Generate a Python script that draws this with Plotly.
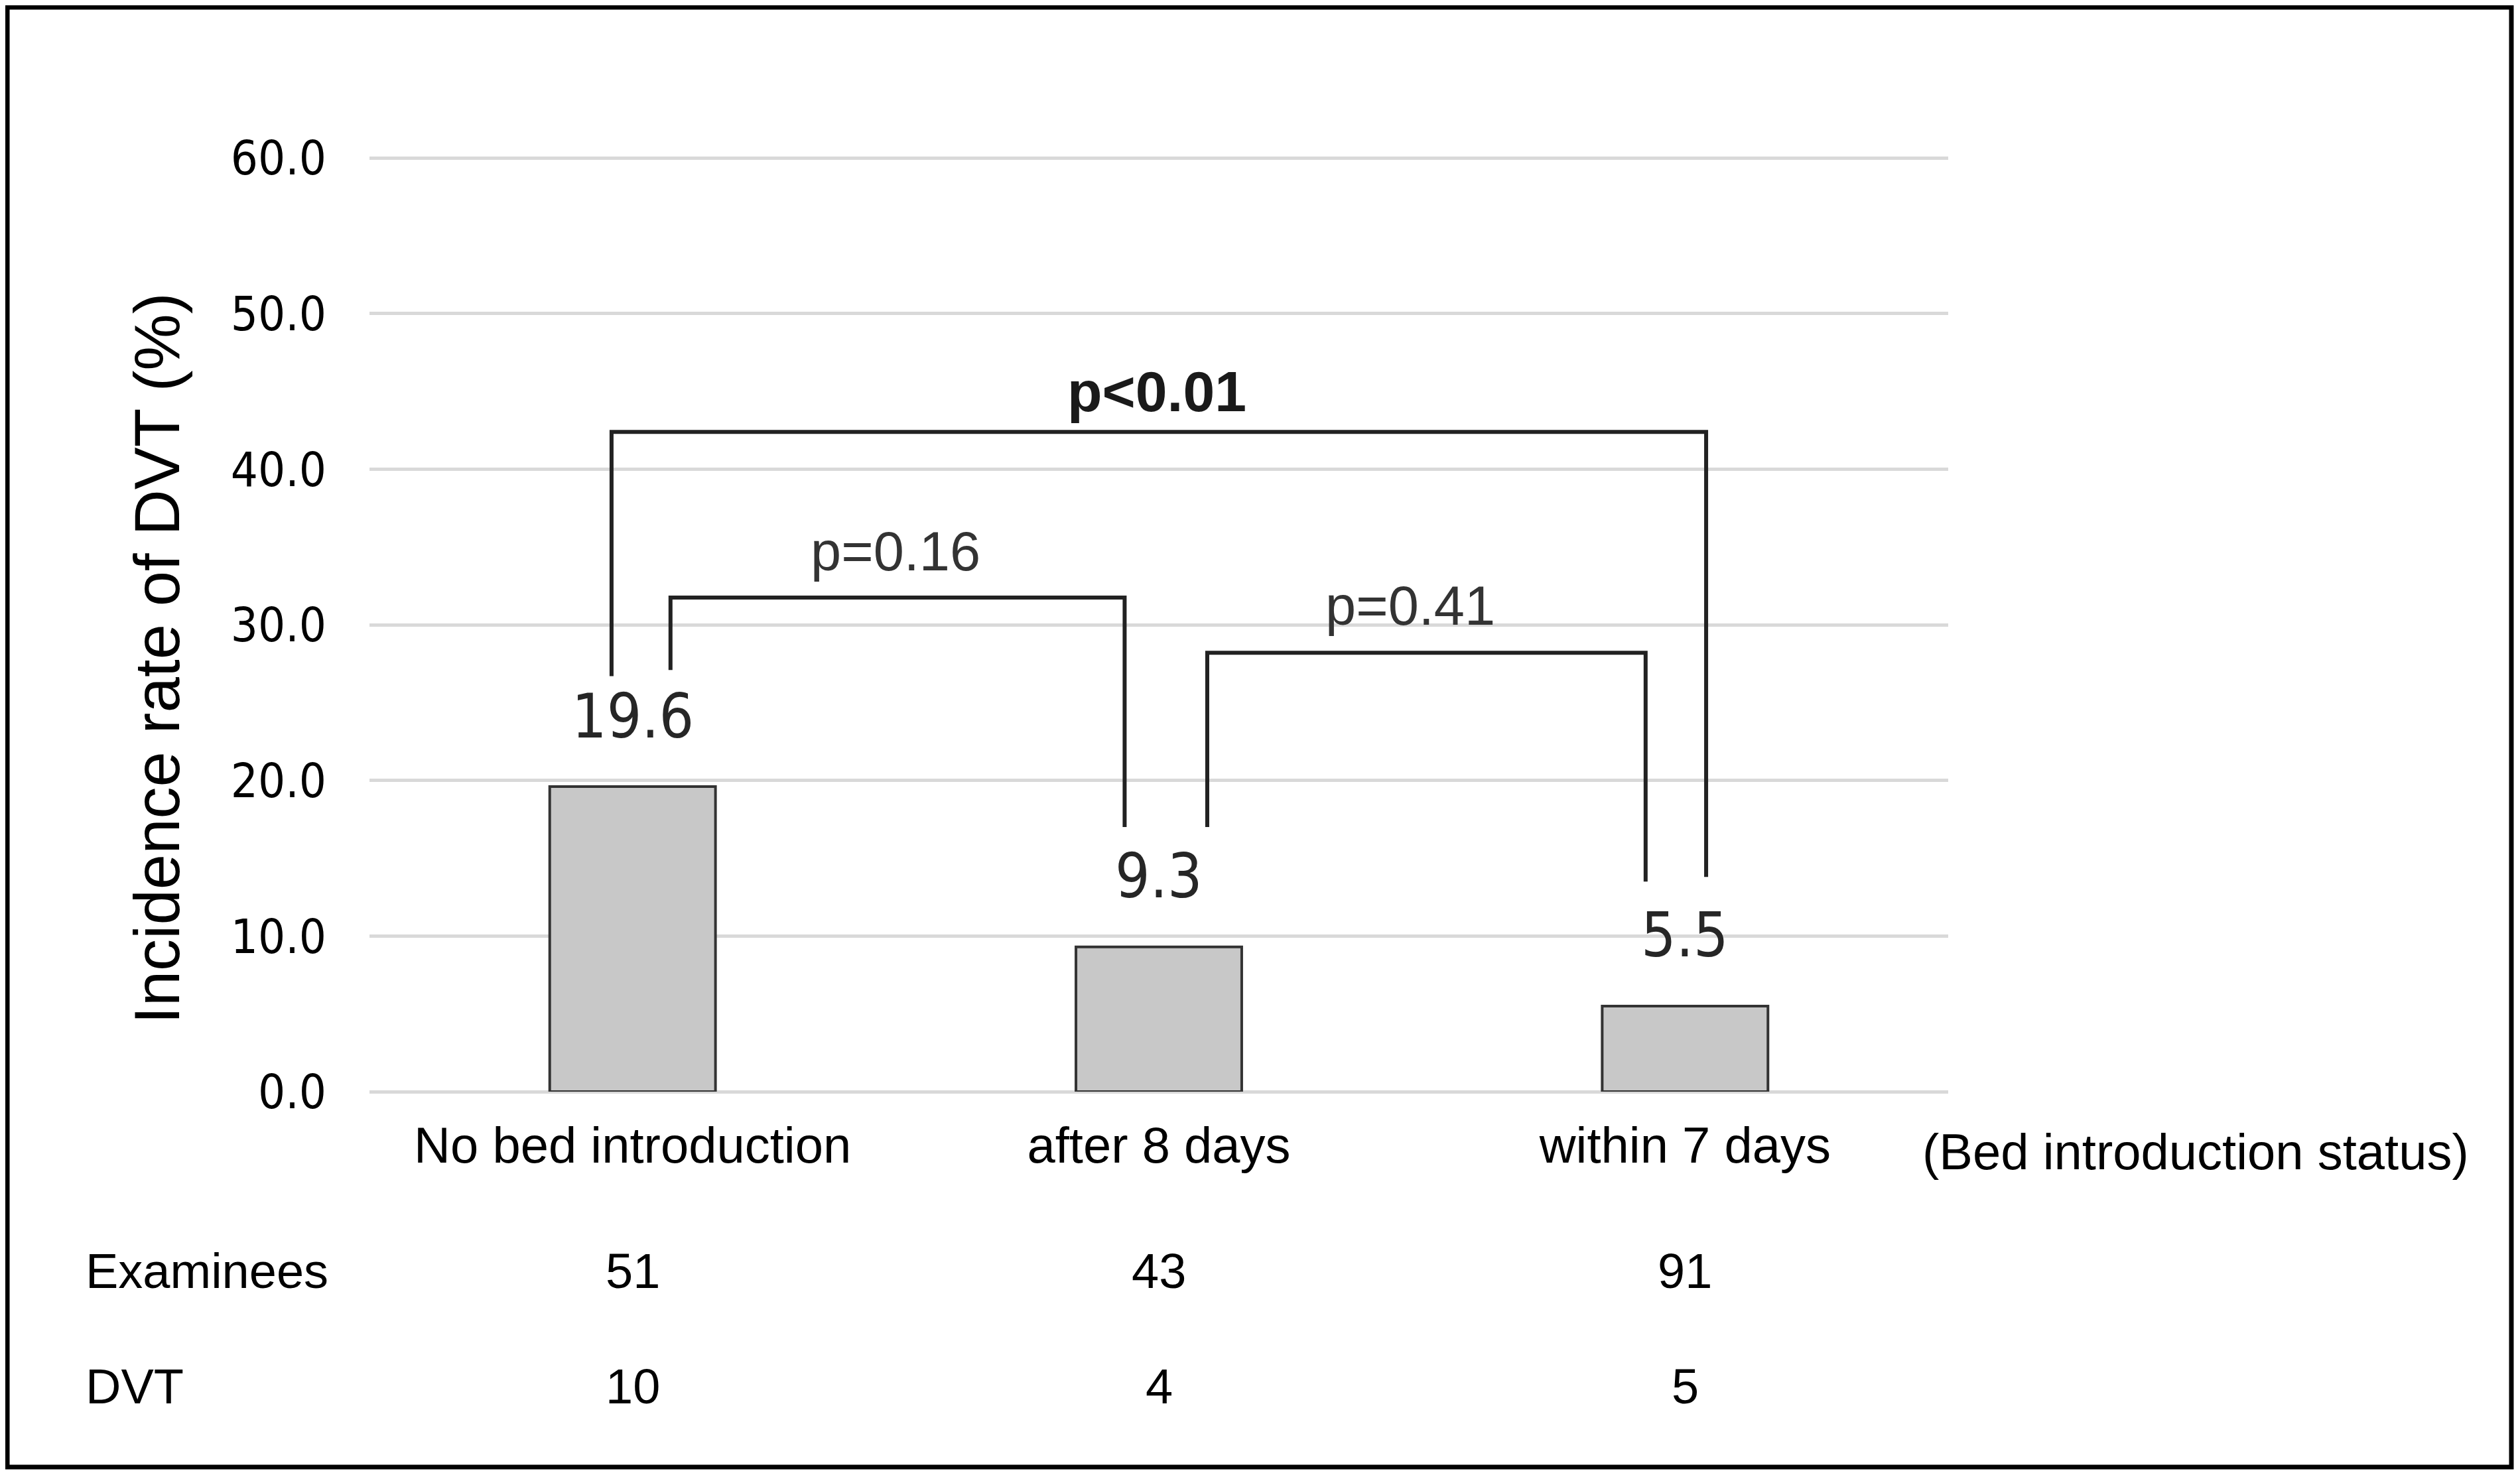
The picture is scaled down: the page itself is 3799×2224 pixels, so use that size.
import plotly.graph_objects as go

# ---- data ----
categories = ["No bed introduction", "after 8 days", "within 7 days"]
rates = [19.6, 9.3, 5.5]                 # incidence rate of DVT (%)
examinees = [51, 43, 91]
dvt_counts = [10, 4, 5]
y_ticks = [0, 10, 20, 30, 40, 50, 60]
y_tick_labels = ["0.0", "10.0", "20.0", "30.0", "40.0", "50.0", "60.0"]

# comparisons: (left cat, right cat, label, bold)
comparisons = [
    (0, 2, "p<0.01", True),
    (0, 1, "p=0.16", False),
    (1, 2, "p=0.41", False),
]

# ---- geometry (figure pixels; page body adds an 8px margin) ----
OFF = 8
W, H = 3799 - 2 * OFF, 2224 - 2 * OFF
L, T = 557 - OFF, 237 - OFF
R = W - (2937 - OFF)
B = H - (1646 - OFF)
PW, PH = W - L - R, H - T - B

def px(xpix):          # xpix in reference-image pixels
    return (xpix - OFF - L) / PW

def py(ypix):          # ypix in reference-image pixels
    return (H - B - (ypix - OFF)) / PH

NARROW = "Liberation Sans Narrow, Arial Narrow, DejaVu Sans Condensed, Liberation Sans, sans-serif"
SANS = "Liberation Sans, Arial, sans-serif"

fig = go.Figure()
fig.add_trace(go.Bar(
    x=categories, y=rates,
    marker=dict(color="#c8c8c8", line=dict(color="#333333", width=4)),
    width=0.315,
    hoverinfo="x+y",
))

annotations = []
shapes = []

# value labels above bars
for c, v in zip(categories, rates):
    annotations.append(dict(
        x=c, y=v, xref="x", yref="y", text=f"{v:.1f}", showarrow=False,
        yanchor="middle", yshift=106,
        font=dict(family=NARROW, size=92, color="#262626")))

# bracket layout (in category index units / data units)
bracket_style = {
    "p<0.01": dict(xl=-0.04, xr=2.04, y=42.4, yl=26.7, yr=13.8, lx=0.996, ly=45.0),
    "p=0.16": dict(xl=0.072, xr=0.935, y=31.75, yl=27.1, yr=17.0, lx=0.5, ly=34.7),
    "p=0.41": dict(xl=1.092, xr=1.925, y=28.2, yl=17.0, yr=13.5, lx=1.478, ly=31.2),
}
for li, ri, lab, bold in comparisons:
    s = bracket_style[lab]
    path = f"M {s['xl']},{s['yl']} L {s['xl']},{s['y']} L {s['xr']},{s['y']} L {s['xr']},{s['yr']}"
    shapes.append(dict(type="path", path=path, xref="x", yref="y",
                       line=dict(color="#222222", width=6)))
    annotations.append(dict(
        x=s["lx"], y=s["ly"], xref="x", yref="y",
        text=f"<b>{lab}</b>" if bold else lab, showarrow=False,
        xanchor="center", yanchor="middle",
        font=dict(family=SANS, size=86 if bold else 83, color="#1a1a1a" if bold else "#333333")))

# y axis title
annotations.append(dict(
    x=px(237), y=py(993), xref="paper", yref="paper",
    text="Incidence rate of DVT (%)", textangle=-90, showarrow=False,
    xanchor="center", yanchor="middle",
    font=dict(family=SANS, size=96, color="#000000")))

# x axis caption
annotations.append(dict(
    x=px(3310), y=py(1736), xref="paper", yref="paper",
    text="(Bed introduction status)", showarrow=False,
    xanchor="center", yanchor="middle",
    font=dict(family=SANS, size=76, color="#000000")))

# table rows
for row_label, vals, ypix in [("Examinees", examinees, 1916), ("DVT", dvt_counts, 2090)]:
    annotations.append(dict(
        x=px(127), y=py(ypix), xref="paper", yref="paper", text=row_label,
        showarrow=False, xanchor="left", yanchor="middle",
        font=dict(family=SANS, size=74, color="#000000")))
    for c, v in zip(categories, vals):
        annotations.append(dict(
            x=c, y=py(ypix), xref="x", yref="paper", text=str(v),
            showarrow=False, xanchor="center", yanchor="middle",
            font=dict(family=SANS, size=74, color="#000000")))

# outer border
shapes.append(dict(type="rect", xref="paper", yref="paper",
                   x0=px(11), x1=px(3786), y0=py(2212), y1=py(11),
                   line=dict(color="#000000", width=7), fillcolor="rgba(0,0,0,0)"))

fig.update_layout(
    width=W, height=H, autosize=False,
    margin=dict(l=L, r=R, t=T, b=B, pad=0),
    paper_bgcolor="white", plot_bgcolor="white",
    showlegend=False,
    shapes=shapes, annotations=annotations,
    xaxis=dict(type="category", range=[-0.5, 2.5], showgrid=False, showline=False,
               zeroline=False, ticks="", ticklabelstandoff=30,
               tickfont=dict(family=SANS, size=76, color="#000000")),
    yaxis=dict(range=[0, 60.05], tickvals=y_ticks, ticktext=y_tick_labels,
               showgrid=True, gridcolor="#d9d9d9", gridwidth=5,
               zeroline=True, zerolinecolor="#d9d9d9", zerolinewidth=5,
               showline=False, ticks="", ticklabelstandoff=64,
               tickfont=dict(family=NARROW, size=72, color="#000000")),
)

fig.write_html("out.html")
